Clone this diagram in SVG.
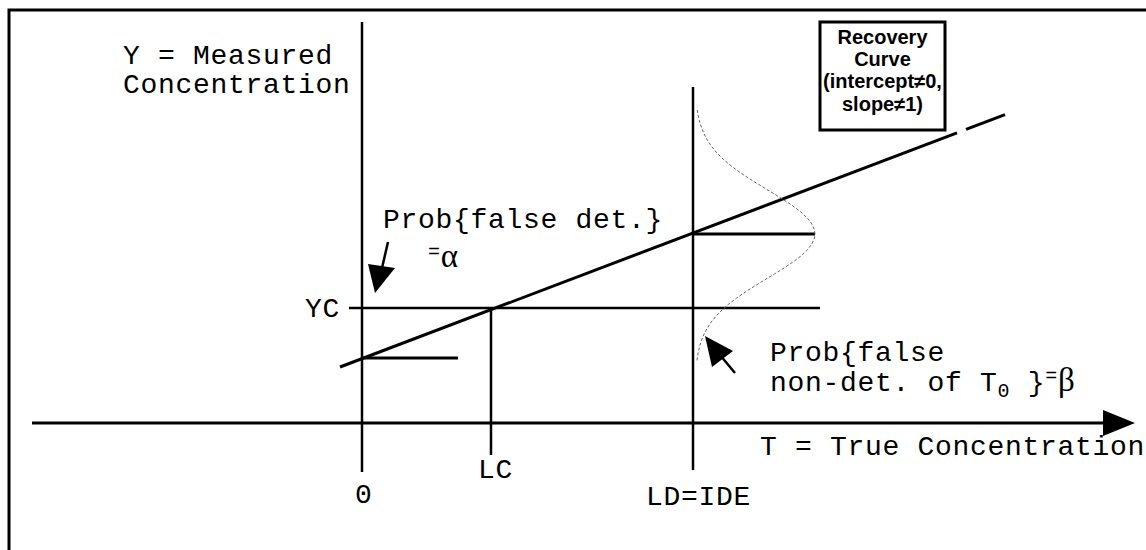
<svg xmlns="http://www.w3.org/2000/svg" width="1146" height="550" viewBox="0 0 1146 550">
<style>
.mono{font-family:"Liberation Mono","Courier New",monospace;font-size:28px;letter-spacing:0.7px;fill:#000}
.serif{font-family:"Liberation Serif","Times New Roman",serif;fill:#000}
.box{font-family:"Liberation Sans",Arial,sans-serif;font-size:20px;font-weight:bold;fill:#000;text-anchor:middle}
.ln{stroke:#000;fill:none;stroke-linecap:butt}
</style>
<rect width="1146" height="550" fill="#fff"/>
<g id="frame">
<path class="ln" d="M9,550 V10 H1146" stroke-width="3"/>
</g>
<g id="connectors">
<line class="ln" x1="362" y1="22" x2="362" y2="472" stroke-width="2.5"/>
<line class="ln" x1="693" y1="87" x2="693" y2="470" stroke-width="2.5"/>
<line class="ln" x1="491" y1="308" x2="491" y2="455" stroke-width="2.5"/>
<line class="ln" x1="32" y1="423" x2="1104" y2="423" stroke-width="3"/>
<polygon points="1103,410 1135,423 1103,436" fill="#000"/>
<line class="ln" x1="349" y1="308" x2="820" y2="308" stroke-width="2.5"/>
<line class="ln" x1="362" y1="358" x2="458" y2="358" stroke-width="3"/>
<line class="ln" x1="693" y1="234" x2="815" y2="234" stroke-width="3"/>
<line class="ln" x1="340" y1="367" x2="957" y2="132.8" stroke-width="3"/>
<line class="ln" x1="966" y1="129.4" x2="1005" y2="114.6" stroke-width="3"/>
<polyline fill="none" stroke="#666" stroke-width="1" stroke-dasharray="3 2" points="697.3,110 698.3,116 699.7,122 701.6,128 704.1,134 707.3,140 711.2,146 716.1,152 722,158 728.8,164 736.6,170 745.3,176 754.7,182 764.5,188 774.4,194 784,200 793,206 800.9,212 807.3,218 811.9,224 814.5,230 815,234 814.5,238 811.9,244 807.3,250 800.9,256 793,262 784,268 774.4,274 764.5,280 754.7,286 745.3,292 736.6,298 728.8,304 722,310 716.1,316 711.2,322 707.3,328 704.1,334 701.6,340 699.7,346 698.3,352 697.3,358 696.7,362"/>
<line class="ln" x1="388" y1="242" x2="382" y2="268" stroke-width="2.5"/>
<polygon points="368,264 395,268 375,293" fill="#000"/>
<line class="ln" x1="735" y1="373" x2="720" y2="355" stroke-width="2.5"/>
<polygon points="705,336 733,351 712,367" fill="#000"/>
</g>
<g id="recovery-box">
<rect x="820" y="22" width="125" height="108" fill="#fff" stroke="#000" stroke-width="3"/>
<text class="box" x="882.5" y="44">Recovery</text>
<text class="box" x="882.5" y="66">Curve</text>
<text class="box" x="882.5" y="88">(intercept≠0,</text>
<text class="box" x="882.5" y="111">slope≠1)</text>
</g>
<g id="y-label">
<text class="mono" x="123" y="64">Y = Measured</text>
<text class="mono" x="123" y="93">Concentration</text>
</g>
<g id="x-label">
<text class="mono" x="760" y="455">T = True Concentration</text>
</g>
<g id="alpha-label">
<text class="mono" x="383" y="228">Prob{false det.}</text>
<text x="428" y="267"><tspan class="mono" style="font-size:20px" dy="-9">=</tspan><tspan class="serif" style="font-size:33px" dy="9">α</tspan></text>
</g>
<g id="beta-label">
<text class="mono" x="770" y="361">Prob{false</text>
<text class="mono" x="770" y="391">non-det. of T<tspan style="font-size:20px" dy="6">0</tspan><tspan dy="-6"> }</tspan><tspan style="font-size:20px" dy="-9">=</tspan><tspan class="serif" style="font-size:33px" dy="9">β</tspan></text>
</g>
<g id="tick-labels">
<text class="mono" x="305" y="317">YC</text>
<text class="mono" x="478" y="478">LC</text>
<text class="mono" x="355" y="503">0</text>
<text class="mono" x="646" y="505">LD=IDE</text>
</g>
</svg>
